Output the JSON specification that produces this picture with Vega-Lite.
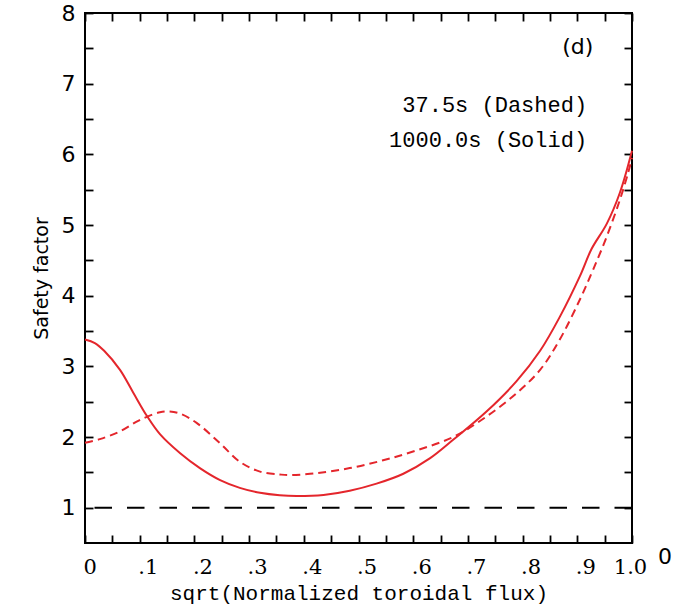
{
  "$schema": "https://vega.github.io/schema/vega-lite/v6.json",
  "width": 547,
  "height": 530,
  "autosize": "none",
  "padding": {"left": 85, "top": 13, "right": 47, "bottom": 68},
  "background": "white",
  "config": {
    "view": {"stroke": "black", "strokeWidth": 2},
    "axis": {"grid": false, "domain": false, "tickColor": "black", "tickWidth": 1.8, "tickSize": -8, "labelColor": "black", "titleColor": "black"}
  },
  "datasets": {
    "solid": [
      {"x": 0, "q": 3.38}, {"x": 0.018, "q": 3.33}, {"x": 0.035, "q": 3.22}, {"x": 0.064, "q": 2.95},
      {"x": 0.088, "q": 2.63}, {"x": 0.113, "q": 2.3}, {"x": 0.137, "q": 2.04}, {"x": 0.174, "q": 1.77},
      {"x": 0.21, "q": 1.56}, {"x": 0.247, "q": 1.39}, {"x": 0.283, "q": 1.28}, {"x": 0.32, "q": 1.21},
      {"x": 0.356, "q": 1.175}, {"x": 0.387, "q": 1.165}, {"x": 0.436, "q": 1.18}, {"x": 0.484, "q": 1.24},
      {"x": 0.533, "q": 1.34}, {"x": 0.582, "q": 1.48}, {"x": 0.631, "q": 1.7}, {"x": 0.673, "q": 1.96},
      {"x": 0.734, "q": 2.36}, {"x": 0.789, "q": 2.79}, {"x": 0.832, "q": 3.22}, {"x": 0.868, "q": 3.7},
      {"x": 0.905, "q": 4.28}, {"x": 0.926, "q": 4.66}, {"x": 0.954, "q": 5.02}, {"x": 0.978, "q": 5.46},
      {"x": 1.0, "q": 6.05}
    ],
    "dashed": [
      {"x": 0, "q": 1.92}, {"x": 0.027, "q": 1.97}, {"x": 0.064, "q": 2.08}, {"x": 0.1, "q": 2.24},
      {"x": 0.137, "q": 2.35}, {"x": 0.155, "q": 2.36}, {"x": 0.174, "q": 2.33}, {"x": 0.204, "q": 2.2},
      {"x": 0.247, "q": 1.91}, {"x": 0.283, "q": 1.65}, {"x": 0.32, "q": 1.51}, {"x": 0.356, "q": 1.47},
      {"x": 0.375, "q": 1.46}, {"x": 0.424, "q": 1.49}, {"x": 0.484, "q": 1.56}, {"x": 0.545, "q": 1.67},
      {"x": 0.606, "q": 1.81}, {"x": 0.673, "q": 2.0}, {"x": 0.734, "q": 2.29}, {"x": 0.789, "q": 2.62},
      {"x": 0.832, "q": 2.95}, {"x": 0.868, "q": 3.38}, {"x": 0.905, "q": 3.95}, {"x": 0.929, "q": 4.37},
      {"x": 0.954, "q": 4.84}, {"x": 0.978, "q": 5.36}, {"x": 0.993, "q": 5.74}, {"x": 1.0, "q": 5.95}
    ],
    "notes": [
      {"x": 0.918, "q": 6.7, "label": "37.5s (Dashed)"},
      {"x": 0.918, "q": 6.2, "label": "1000.0s (Solid)"}
    ]
  },
  "layer": [
    {
      "data": {"values": [{"q": 1}]},
      "mark": {"type": "rule", "color": "black", "strokeWidth": 2, "strokeDash": [17.5, 15]},
      "encoding": {
        "y": {"field": "q", "type": "quantitative", "scale": {"domain": [0.5, 8]}, "axis": null}
      }
    },
    {
      "data": {"name": "solid"},
      "mark": {"type": "line", "color": "#e4262c", "strokeWidth": 2, "interpolate": "catmull-rom"},
      "encoding": {
        "x": {
          "field": "x", "type": "quantitative", "scale": {"domain": [0, 1], "nice": false, "zero": false},
          "axis": {
            "orient": "bottom",
            "values": [0, 0.05, 0.1, 0.15, 0.2, 0.25, 0.3, 0.35, 0.4, 0.45, 0.5, 0.55, 0.6, 0.65, 0.7, 0.75, 0.8, 0.85, 0.9, 0.95, 1],
            "labelExpr": "round(datum.value*20) % 2 == 0 ? (datum.value == 0 ? '0' : (datum.value >= 1 ? '1.0' : replace(format(datum.value, '.1f'), '0.', '.'))) : ''",
            "labelAlign": {"condition": {"test": "datum.value >= 1", "value": "center"}, "value": "left"},
            "labelOffset": -2,
            "labelFont": "DejaVu Serif", "labelFontSize": 21, "labelPadding": 21, "labelFlush": false, "labelOverlap": false,
            "title": "sqrt(Normalized toroidal flux)", "titleFont": "Liberation Mono", "titleFontSize": 21, "titleFontWeight": "normal", "titlePadding": 5
          }
        },
        "y": {
          "field": "q", "type": "quantitative", "scale": {"domain": [0.5, 8], "nice": false, "zero": false},
          "axis": {
            "orient": "left",
            "values": [1, 1.5, 2, 2.5, 3, 3.5, 4, 4.5, 5, 5.5, 6, 6.5, 7, 7.5, 8],
            "labelExpr": "datum.value % 1 == 0 ? format(datum.value, 'd') : ''",
            "labelFont": "DejaVu Sans", "labelFontSize": 22, "labelPadding": 18, "labelFlush": false, "labelOverlap": false,
            "title": "Safety factor", "titleFont": "DejaVu Sans", "titleFontSize": 19, "titleFontWeight": "normal", "titlePadding": 10
          }
        }
      }
    },
    {
      "data": {"name": "dashed"},
      "mark": {"type": "line", "color": "#e4262c", "strokeWidth": 2, "strokeDash": [8, 5], "interpolate": "catmull-rom"},
      "encoding": {
        "x": {
          "field": "x", "type": "quantitative",
          "axis": {
            "orient": "top", "labels": false, "title": null,
            "values": [0, 0.05, 0.1, 0.15, 0.2, 0.25, 0.3, 0.35, 0.4, 0.45, 0.5, 0.55, 0.6, 0.65, 0.7, 0.75, 0.8, 0.85, 0.9, 0.95, 1]
          }
        },
        "y": {
          "field": "q", "type": "quantitative",
          "axis": {
            "orient": "right", "labels": false, "title": null,
            "values": [1, 1.5, 2, 2.5, 3, 3.5, 4, 4.5, 5, 5.5, 6, 6.5, 7, 7.5, 8]
          }
        }
      }
    },
    {
      "data": {"name": "notes"},
      "mark": {"type": "text", "align": "right", "baseline": "middle", "font": "Liberation Mono", "fontSize": 22, "color": "black"},
      "encoding": {
        "x": {"field": "x", "type": "quantitative", "axis": null},
        "y": {"field": "q", "type": "quantitative", "axis": null},
        "text": {"field": "label"}
      }
    },
    {
      "data": {"values": [{"x": 0.901, "q": 7.52, "label": "(d)"}]},
      "mark": {"type": "text", "align": "center", "baseline": "middle", "font": "DejaVu Sans", "fontSize": 22, "color": "black"},
      "encoding": {
        "x": {"field": "x", "type": "quantitative", "axis": null},
        "y": {"field": "q", "type": "quantitative", "axis": null},
        "text": {"field": "label"}
      }
    },
    {
      "data": {"values": [{"x": 1.0, "q": 0.5, "label": "0"}]},
      "mark": {"type": "text", "align": "center", "baseline": "middle", "font": "DejaVu Sans", "fontSize": 22, "color": "black", "dx": 33, "dy": 14},
      "encoding": {
        "x": {"field": "x", "type": "quantitative", "axis": null},
        "y": {"field": "q", "type": "quantitative", "axis": null},
        "text": {"field": "label"}
      }
    }
  ]
}
